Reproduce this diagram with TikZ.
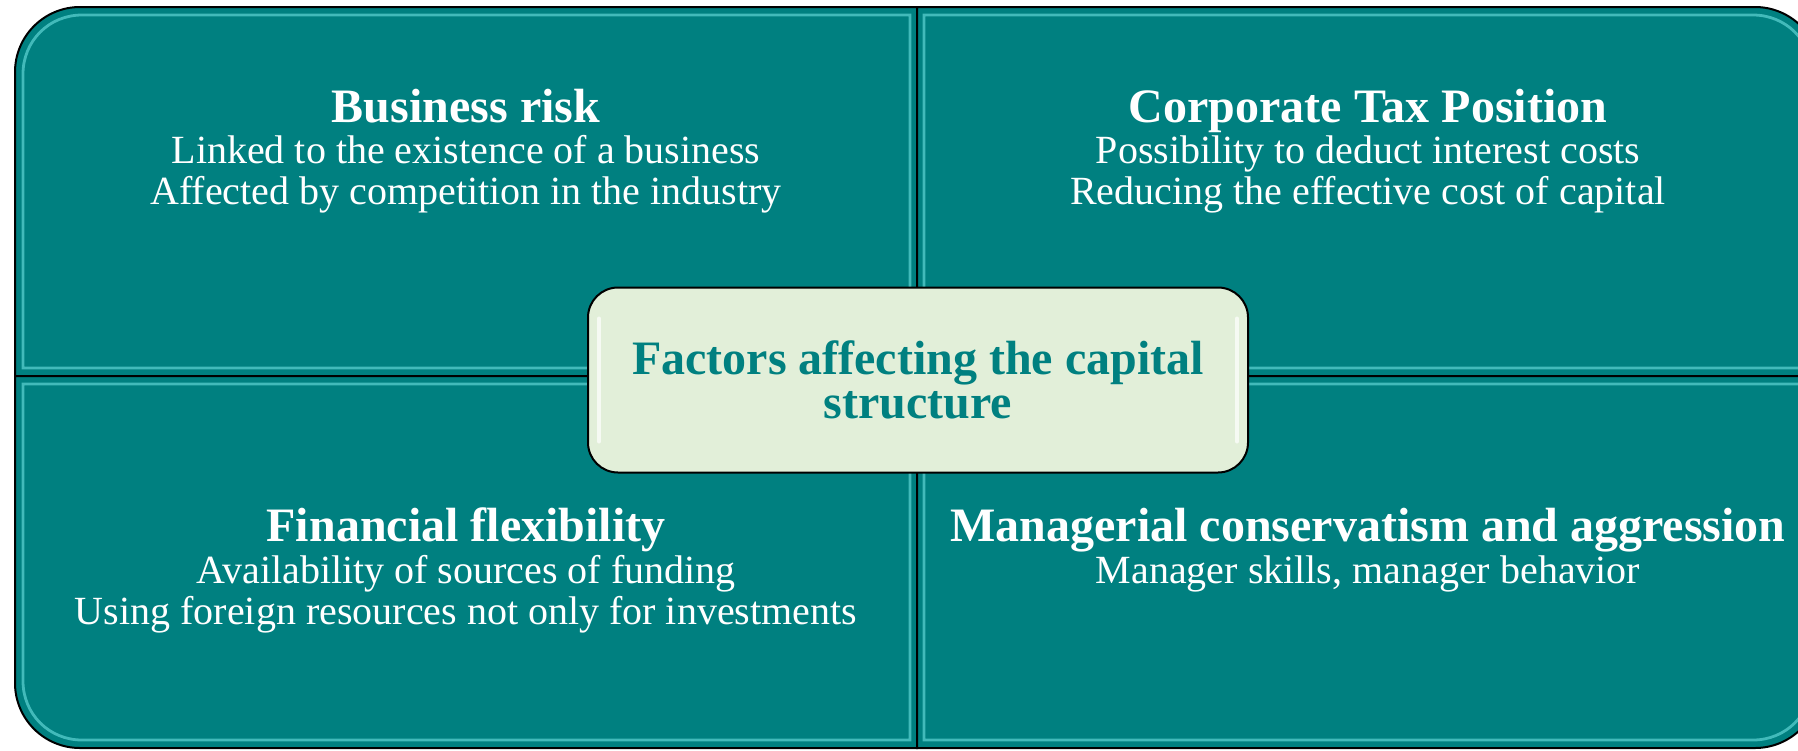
\documentclass[tikz,border=0pt]{standalone}
\usepackage{fontspec}
\setmainfont{Liberation Serif}
\definecolor{tealbg}{RGB}{0,128,128}
\definecolor{hlcyan}{RGB}{110,225,225}
\definecolor{boxfill}{RGB}{226,239,217}
\begin{document}
\begin{tikzpicture}[x=0.5pt,y=-0.5pt,
 panel/.style={fill=tealbg,draw=black,line width=1pt},
 glow/.style={draw=hlcyan,line width=1.4pt,opacity=0.6},
 ttl/.style={text=white,font=\fontsize{24}{20}\selectfont\bfseries,anchor=base,inner sep=0pt},
 bdy/.style={text=white,font=\fontsize{20}{20.5}\selectfont,anchor=base,align=center,inner sep=0pt},
 hub/.style={rounded corners=15pt,fill=boxfill,draw=black,line width=1pt,minimum width=330pt,minimum height=92.5pt,text=tealbg,font=\fontsize{24}{22}\selectfont\bfseries,align=center}]
\useasboundingbox (0,0) rectangle (1798,750);
\clip (0,0) rectangle (1798,750);
% panels
\path[panel] (917,7) -- (80,7) .. controls (44.1,7) and (15,36.1) .. (15,72) -- (15,376) -- (917,376) -- cycle;
\path[panel] (917,7) -- (1755,7) .. controls (1790.9,7) and (1820,36.1) .. (1820,72) -- (1820,376) -- (917,376) -- cycle;
\path[panel] (917,376) -- (15,376) -- (15,683) .. controls (15,718.9) and (44.1,748) .. (80,748) -- (917,748) -- cycle;
\path[panel] (917,376) -- (1820,376) -- (1820,683) .. controls (1820,718.9) and (1790.9,748) .. (1755,748) -- (917,748) -- cycle;
% bevel highlights
\path[glow] (910,15) -- (82,15) .. controls (49,15) and (23,41) .. (23,74) -- (23,368) -- (910,368) -- cycle;
\path[glow] (924,15) -- (1753,15) .. controls (1786,15) and (1812,41) .. (1812,74) -- (1812,368) -- (924,368) -- cycle;
\path[glow] (910,384) -- (23,384) -- (23,681) .. controls (23,714) and (49,740) .. (82,740) -- (910,740) -- cycle;
\path[glow] (924,384) -- (1812,384) -- (1812,681) .. controls (1812,714) and (1786,740) .. (1753,740) -- (924,740) -- cycle;
% texts
\node[ttl] (tlt) at (466,122) {Business risk};
\node[bdy] (tlb) at (466,204) {Linked to the existence of a business\\Affected by competition in the industry};
\node[ttl] (trt) at (1368,122) {Corporate Tax Position};
\node[bdy] (trb) at (1368,204) {Possibility to deduct interest costs\\Reducing the effective cost of capital};
\node[ttl] (blt) at (466,541) {Financial flexibility};
\node[bdy] (blb) at (466,624) {Availability of sources of funding\\Using foreign resources not only for investments};
\node[ttl] (brt) at (1368,541) {Managerial conservatism and aggression};
\node[bdy] (brb) at (1368,583) {Manager skills, manager behavior};
% hub
\node[hub] (hub) at (918,380) {Factors affecting the capital\\structure};
\draw[white,opacity=.7,line width=2pt,line cap=round] ([xshift=6pt,yshift=-16pt]hub.north west) -- ([xshift=6pt,yshift=16pt]hub.south west);
\draw[white,opacity=.7,line width=2pt,line cap=round] ([xshift=-6pt,yshift=-16pt]hub.north east) -- ([xshift=-6pt,yshift=16pt]hub.south east);
\end{tikzpicture}
\end{document}
